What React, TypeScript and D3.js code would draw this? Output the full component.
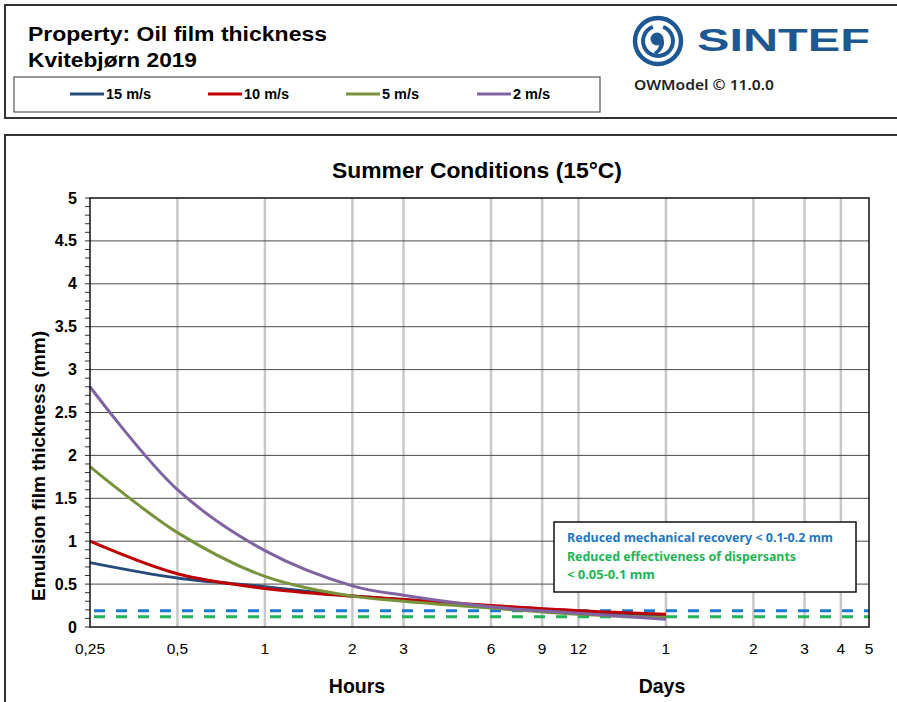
import React, {Component} from 'react';
import * as d3 from "d3";

// time in hours
const hours = [0.25, 0.5, 1, 2, 3, 6, 12, 24];
const wind15 = [0.75, 0.57, 0.47, 0.36, 0.32, 0.24, 0.17, 0.12];
const wind10 = [1.0, 0.62, 0.45, 0.36, 0.32, 0.25, 0.19, 0.15];
const wind5 = [1.87, 1.1, 0.59, 0.36, 0.3, 0.22, 0.15, 0.11];
const wind2 = [2.8, 1.6, 0.89, 0.48, 0.37, 0.235, 0.16, 0.09];

const seriesNames = ["15 m/s", "10 m/s", "5 m/s", "2 m/s"];
const seriesColors = ["#254b7c", "#c00000", "#77933c", "#8064a2"];

const xTicks = [0.25, 0.5, 1, 2, 3, 6, 9, 12, 24, 48, 72, 96, 120];
const xTickLabels = ["0,25", "0,5", "1", "2", "3", "6", "9", "12", "1", "2", "3", "4", "5"];
const yTicks = [0, 0.5, 1, 1.5, 2, 2.5, 3, 3.5, 4, 4.5, 5];

const mechanicalLimit = 0.19;
const dispersantLimit = 0.12;

const ARIAL = "'Liberation Sans', Arial, sans-serif";
const CALIBRI = "'Noto Sans', 'Open Sans', sans-serif";

class App extends Component {
  el = null;

  componentDidMount = () => {
    const svg = d3.select(this.el);
    this.drawFrame(svg);
    this.drawChart(svg);
  }

  drawFrame(svg) {
    // header box
    svg.append("rect").attr("x", 5).attr("y", 5).attr("width", 900).attr("height", 113)
        .attr("fill", "white").attr("stroke", "#333").attr("stroke-width", 2);
    svg.append("rect").attr("x", 5).attr("y", 135).attr("width", 900).attr("height", 580)
        .attr("fill", "white").attr("stroke", "#333").attr("stroke-width", 2);

    svg.append("text").attr("x", 28).attr("y", 41).attr("font-family", ARIAL)
        .attr("font-weight", "bold").attr("font-size", 20)
        .attr("textLength", 299).attr("lengthAdjust", "spacingAndGlyphs")
        .text("Property: Oil film thickness");
    svg.append("text").attr("x", 28).attr("y", 67).attr("font-family", ARIAL)
        .attr("font-weight", "bold").attr("font-size", 20)
        .attr("textLength", 169).attr("lengthAdjust", "spacingAndGlyphs")
        .text("Kvitebjørn 2019");

    // legend
    svg.append("rect").attr("x", 14).attr("y", 77).attr("width", 586).attr("height", 35)
        .attr("fill", "white").attr("stroke", "#555").attr("stroke-width", 1.2);
    const legendX = [70, 208, 346, 477];
    const leg = svg.selectAll("g.leg").data(seriesNames).join("g").attr("class", "leg")
        .attr("transform", (d, i) => `translate(${legendX[i]},94)`);
    leg.append("line").attr("x1", 0).attr("x2", 34).attr("y1", 0).attr("y2", 0)
        .attr("stroke", (d, i) => seriesColors[i]).attr("stroke-width", 3);
    leg.append("text").attr("x", 36).attr("y", 5).attr("font-family", ARIAL)
        .attr("font-weight", "bold").attr("font-size", 14.5).text(d => d);

    // logo
    const logoBlue = "#1e5893";
    const logo = svg.append("g").attr("transform", "translate(658,41)");
    logo.append("circle").attr("r", 23).attr("fill", "none").attr("stroke", logoBlue).attr("stroke-width", 4.5);
    const arc = d3.arc();
    logo.append("path").attr("d", arc({innerRadius: 13, outerRadius: 17, startAngle: 0.35, endAngle: Math.PI * 2 - 0.35}))
        .attr("fill", logoBlue);
    logo.append("circle").attr("cx", -1).attr("cy", -2).attr("r", 6.5).attr("fill", logoBlue);
    logo.append("path").attr("d", "M2,-6 C8,-2 8,8 -2,14 L-4,11 C2,7 3,1 -1,-3 Z").attr("fill", logoBlue);

    svg.append("text").attr("x", 697).attr("y", 51).attr("font-family", ARIAL)
        .attr("font-weight", "bold").attr("font-size", 31).attr("fill", logoBlue)
        .attr("textLength", 173).attr("lengthAdjust", "spacingAndGlyphs").text("SINTEF");
    svg.append("text").attr("x", 634).attr("y", 90).attr("font-family", CALIBRI)
        .attr("font-weight", "600").attr("font-size", 15).attr("fill", "#222")
        .attr("textLength", 140).attr("lengthAdjust", "spacingAndGlyphs").text("OWModel © 11.0.0");
  }

  drawChart(svg) {
    const left = 90, right = 869, top = 198, bottom = 627;
    const x = d3.scaleLog().domain([0.25, 120]).range([left, right]);
    const y = d3.scaleLinear().domain([0, 5]).range([bottom, top]);

    svg.append("text").attr("x", 477).attr("y", 178).attr("text-anchor", "middle")
        .attr("font-family", ARIAL).attr("font-weight", "bold").attr("font-size", 22.5)
        .attr("textLength", 290).attr("lengthAdjust", "spacingAndGlyphs")
        .text("Summer Conditions (15°C)");

    const g = svg.append("g");

    // vertical grid
    g.selectAll("line.vgrid").data(xTicks.slice(1, -1)).join("line").attr("class", "vgrid")
        .attr("x1", d => x(d)).attr("x2", d => x(d)).attr("y1", top).attr("y2", bottom)
        .attr("stroke", "#c8c8c8").attr("stroke-width", 2.5);

    // horizontal grid
    g.selectAll("line.hgrid").data(yTicks.slice(1, -1)).join("line").attr("class", "hgrid")
        .attr("x1", left).attr("x2", right).attr("y1", d => y(d)).attr("y2", d => y(d))
        .attr("stroke", "#4a4a4a").attr("stroke-width", 1);

    // minor y ticks
    g.selectAll("line.ytick").data(d3.range(0, 51).map(i => i / 10)).join("line").attr("class", "ytick")
        .attr("x1", left - 5).attr("x2", left).attr("y1", d => y(d)).attr("y2", d => y(d))
        .attr("stroke", "#333").attr("stroke-width", 1);

    g.selectAll("text.ylab").data(yTicks).join("text").attr("class", "ylab")
        .attr("x", 77).attr("y", d => y(d) + 5.5).attr("text-anchor", "end")
        .attr("font-family", ARIAL).attr("font-weight", "bold").attr("font-size", 16)
        .text(d => String(d));

    g.selectAll("text.xlab").data(xTicks).join("text").attr("class", "xlab")
        .attr("x", d => x(d)).attr("y", 654).attr("text-anchor", "middle")
        .attr("font-family", ARIAL).attr("font-size", 15.5)
        .text((d, i) => xTickLabels[i]);

    svg.append("text").attr("x", 357).attr("y", 693).attr("text-anchor", "middle")
        .attr("font-family", ARIAL).attr("font-weight", "bold").attr("font-size", 19.5).text("Hours");
    svg.append("text").attr("x", 662).attr("y", 693).attr("text-anchor", "middle")
        .attr("font-family", ARIAL).attr("font-weight", "bold").attr("font-size", 19.5).text("Days");

    svg.append("text").attr("transform", "translate(45,466) rotate(-90)").attr("text-anchor", "middle")
        .attr("font-family", ARIAL).attr("font-weight", "bold").attr("font-size", 18)
        .attr("textLength", 270).attr("lengthAdjust", "spacingAndGlyphs")
        .text("Emulsion film thickness (mm)");

    // threshold lines
    g.append("line").attr("x1", left).attr("x2", right).attr("y1", y(mechanicalLimit)).attr("y2", y(mechanicalLimit))
        .attr("stroke", "#1a7ad0").attr("stroke-width", 3).attr("stroke-dasharray", "11 11").attr("stroke-dashoffset", -4);
    g.append("line").attr("x1", left).attr("x2", right).attr("y1", y(dispersantLimit)).attr("y2", y(dispersantLimit))
        .attr("stroke", "#1db555").attr("stroke-width", 3).attr("stroke-dasharray", "11 11").attr("stroke-dashoffset", -4);

    // series
    const line = d3.line().x(d => x(d[0])).y(d => y(d[1])).curve(d3.curveCatmullRom.alpha(0.5));
    const allSeries = [wind15, wind10, wind5, wind2];
    g.selectAll("path.series").data(allSeries).join("path").attr("class", "series")
        .attr("d", vals => line(vals.map((v, i) => [hours[i], v])))
        .attr("fill", "none").attr("stroke", (d, i) => seriesColors[i]).attr("stroke-width", 3);

    // plot border
    g.append("rect").attr("x", left).attr("y", top).attr("width", right - left).attr("height", bottom - top)
        .attr("fill", "none").attr("stroke", "#111").attr("stroke-width", 1.5);

    // annotation
    svg.append("rect").attr("x", 554).attr("y", 522).attr("width", 302).attr("height", 70)
        .attr("fill", "white").attr("stroke", "#111").attr("stroke-width", 1.5);
    const notes = [
      {t: "Reduced mechanical recovery < 0.1-0.2 mm", c: "#1f77c4", w: 266},
      {t: "Reduced effectiveness of dispersants", c: "#1db555", w: 229},
      {t: "< 0.05-0.1 mm", c: "#1db555", w: 88},
    ];
    svg.selectAll("text.note").data(notes).join("text").attr("class", "note")
        .attr("x", 567).attr("y", (d, i) => 542 + i * 18.5)
        .attr("font-family", CALIBRI).attr("font-weight", "bold").attr("font-size", 12.5)
        .attr("fill", d => d.c).attr("textLength", d => d.w).attr("lengthAdjust", "spacingAndGlyphs")
        .text(d => d.t);
  }

  render() {
    return (
        <svg ref={el => (this.el = el)} width={897} height={702}
             style={{position: "absolute", left: 0, top: 0, background: "white"}} />
    );
  }
}

export default App;
